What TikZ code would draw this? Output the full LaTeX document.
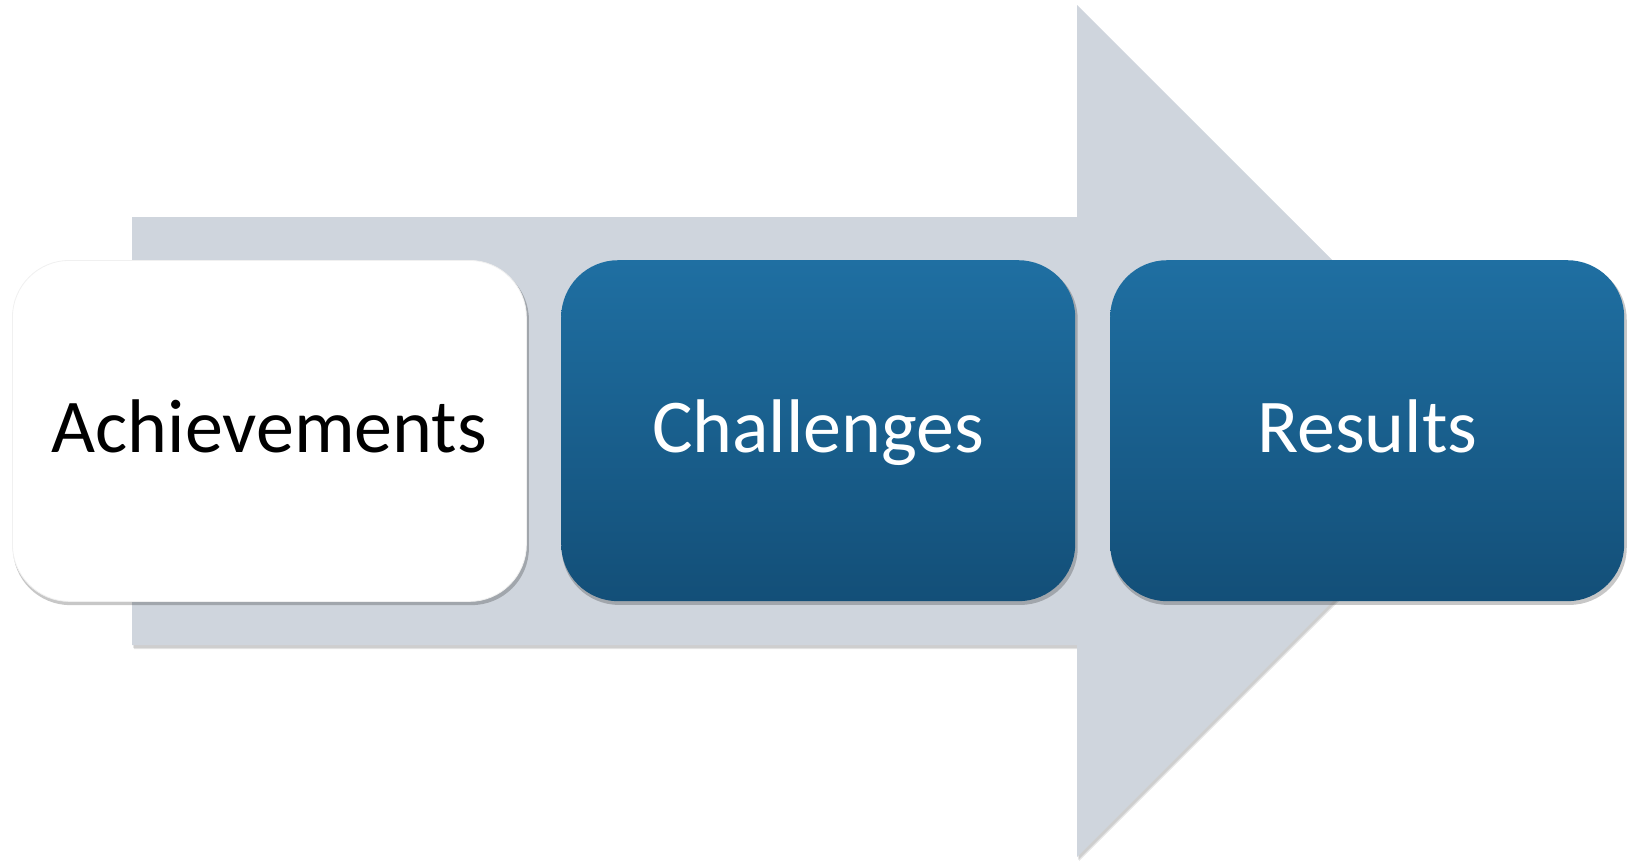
\documentclass[tikz,border=0pt]{standalone}
\usepackage{fontspec}
\setmainfont{Carlito}
\usetikzlibrary{shadows}
\definecolor{arrowgray}{RGB}{207,213,221}
\definecolor{bluetop}{RGB}{31,111,162}
\definecolor{bluebot}{RGB}{19,79,120}
\tikzset{
  stepbox/.style={rounded corners=57pt, minimum width=514pt, minimum height=341pt,
    inner sep=0pt, anchor=north west, font=\fontsize{76}{90}\selectfont,
    text height=55pt, text depth=11pt,
    drop shadow={shadow xshift=1.5pt, shadow yshift=-3pt, shadow scale=1.004, opacity=0.22, fill=black}},
  whitebox/.style={stepbox, fill=white, text=black, draw=black!6, line width=0.8pt},
  bluebox/.style={stepbox, top color=bluetop, bottom color=bluebot, text=white},
}
\begin{document}
\begin{tikzpicture}[x=1pt,y=-1pt]
\useasboundingbox (0,0) rectangle (1631,860);
% big arrow with soft shadow
\fill[black, opacity=0.10] (133,219) -- (1078,219) -- (1078,7) -- (1505,433) -- (1078,860) -- (1078,648) -- (133,648) -- cycle;
\fill[black, opacity=0.10] (134,220) -- (1079,220) -- (1079,8) -- (1506,434) -- (1079,861) -- (1079,649) -- (134,649) -- cycle;
\fill[arrowgray] (132,217) -- (1077,217) -- (1077,5) -- (1503,431) -- (1077,857) -- (1077,645) -- (132,645) -- cycle;
% boxes
\node[whitebox] (ach) at (12,260) {Achievements};
\node[bluebox] (cha) at (561,260) {Challenges};
\node[bluebox] (res) at (1110,260) {Results};
\end{tikzpicture}
\end{document}
